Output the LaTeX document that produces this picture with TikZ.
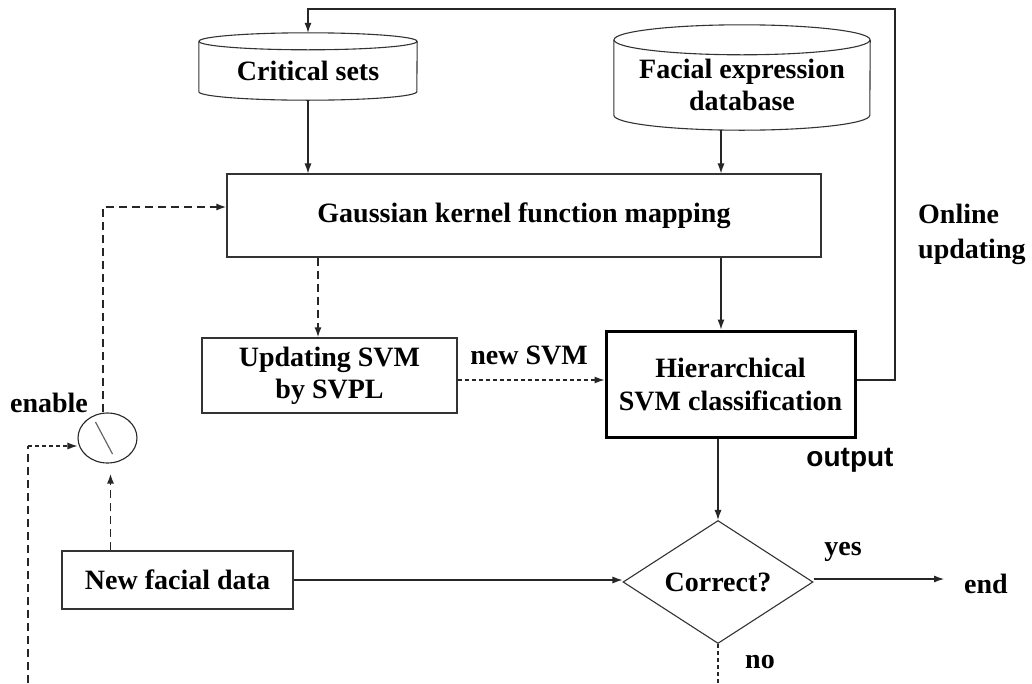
\documentclass[tikz,border=0pt]{standalone}
\usepackage{fontspec}
\setmainfont{Liberation Serif}
\newfontfamily\labelsans{Liberation Sans}
\usetikzlibrary{arrows.meta,shapes.geometric}

% database drum drawn round an empty node: name, x radius, y radius
\newcommand{\drumshape}[3]{%
  \draw[line width=1.1pt, draw=black!80]
    ([yshift=-#3]#1.north west) -- ([yshift=#3]#1.south west)
    arc[start angle=180, end angle=360, x radius=#2, y radius=#3]
    -- ([yshift=-#3]#1.north east);
  \draw[line width=1.1pt, draw=black!80]
    ([yshift=-#3]#1.north) ellipse[x radius=#2, y radius=#3];
}

\begin{document}
\begin{tikzpicture}[x=1pt, y=-1pt,
  every node/.style={font=\fontsize{28}{32}\selectfont\bfseries},
  box/.style={draw=black!80, line width=1.1pt, inner sep=0pt, align=center},
  zone/.style={inner sep=0pt},
  lbl/.style={inner sep=0pt, align=left},
  conn/.style={draw=black!85, line width=1.1pt, -{Latex[length=10pt,width=7pt]}},
  dsh/.style={conn, line width=1.7pt, dash pattern=on 8pt off 5pt},
  fine/.style={conn, dash pattern=on 4pt off 3pt},
  ]
\useasboundingbox (0,0) rectangle (1032,683);
\fill[white] (0,0) rectangle (1032,683);

% data stores
\node[zone, minimum width=218pt, minimum height=67pt] (crit) at (308,66.5) {};
\drumshape{crit}{109pt}{8.5pt}
\node[lbl] (crittxt) at (308,71) {Critical sets};

\node[zone, minimum width=256pt, minimum height=105pt] (facial) at (742,77.5) {};
\drumshape{facial}{128pt}{15pt}
\node[lbl, align=center] (facialtxt) at (742,85) {Facial expression\\database};

% processing blocks
\node[box, minimum width=594pt, minimum height=83pt] (gauss) at (524,215.5)
  {Gaussian kernel function mapping};
\node[box, minimum width=255pt, minimum height=75pt] (upd) at (329.5,375.5)
  {Updating SVM\\by SVPL};
\node[box, draw=black, line width=3pt, minimum width=249pt, minimum height=106pt]
  (hier) at (730.5,384) {Hierarchical\\[1pt]SVM classification};
\node[box, minimum width=231pt, minimum height=58pt] (nfd) at (177.5,580)
  {New facial data};
\node[draw=black!80, line width=1.1pt, diamond, aspect=1.5, inner sep=0pt,
  minimum width=190pt, minimum height=123pt] (dia) at (718,582) {Correct?};

% enable switch
\node[draw=black!85, line width=1.1pt, ellipse, inner sep=0pt,
  minimum width=59pt, minimum height=50pt] (sw) at (107.5,438) {};
\draw[draw=black!60, line width=1.2pt] ([shift={(-12pt,16pt)}]sw.center) -- ([shift={(5pt,-16pt)}]sw.center);

% text labels
\node[lbl] (enable) at (49,403) {enable};
\node[lbl] (newsvm) at (529,355) {new SVM};
\node[lbl, align=left, anchor=west] (online) at (918,234) {Online\\[3pt]updating};
\node[lbl, font=\labelsans\fontsize{28}{32}\selectfont\bfseries] (outlbl) at (850,460) {output};
\node[lbl] (yes) at (843,552) {yes};
\node[lbl] (no) at (760,662) {no};
\node[inner xsep=20pt, inner ysep=0pt] (endn) at (986,584) {end};

% loose ends
\coordinate (loopTR) at (895,9);
\coordinate (fb) at (28,683);
\coordinate (fbcorner) at (28,446);
\coordinate (nobot) at (718,683);

% solid connectors
\draw[conn] (crit.south) -- (crit.south |- gauss.north);
\draw[conn] ([xshift=3pt]dia.north |- facial.south) -- ([xshift=3pt]dia.north |- gauss.north);
\draw[conn] ([xshift=3pt]dia.north |- gauss.south) -- ([xshift=3pt]dia.north |- hier.north);
\draw[conn] (dia.north |- hier.south) -- (dia.north);
\draw[conn] ([yshift=4pt]hier.east) -| (loopTR) -| (crit.north);
\draw[conn] (nfd.east) -- (nfd.east -| dia.west);
\draw[conn] ([yshift=3pt]dia.east) -- ([yshift=3pt]dia.east -| endn.west);

% dashed connectors
\draw[dsh] ([xshift=-11.5pt]upd.north |- gauss.south) -- ([xshift=-11.5pt]upd.north);
\draw[fine] ([yshift=-4.5pt]upd.east) -- ([yshift=-4.5pt]upd.east -| hier.west);
\draw[dsh] ([xshift=-4.5pt]sw.north) |- ([yshift=8.5pt]gauss.west);
\draw[dsh] ([xshift=3pt]sw.south |- nfd.north) -- ([xshift=3pt,yshift=-10pt]sw.south);
\draw[dsh, -] (fb) -- (fbcorner);
\draw[fine] (fbcorner) -- (fbcorner -| sw.west);
\draw[fine, -] (dia.south) -- (nobot);
\end{tikzpicture}
\end{document}
